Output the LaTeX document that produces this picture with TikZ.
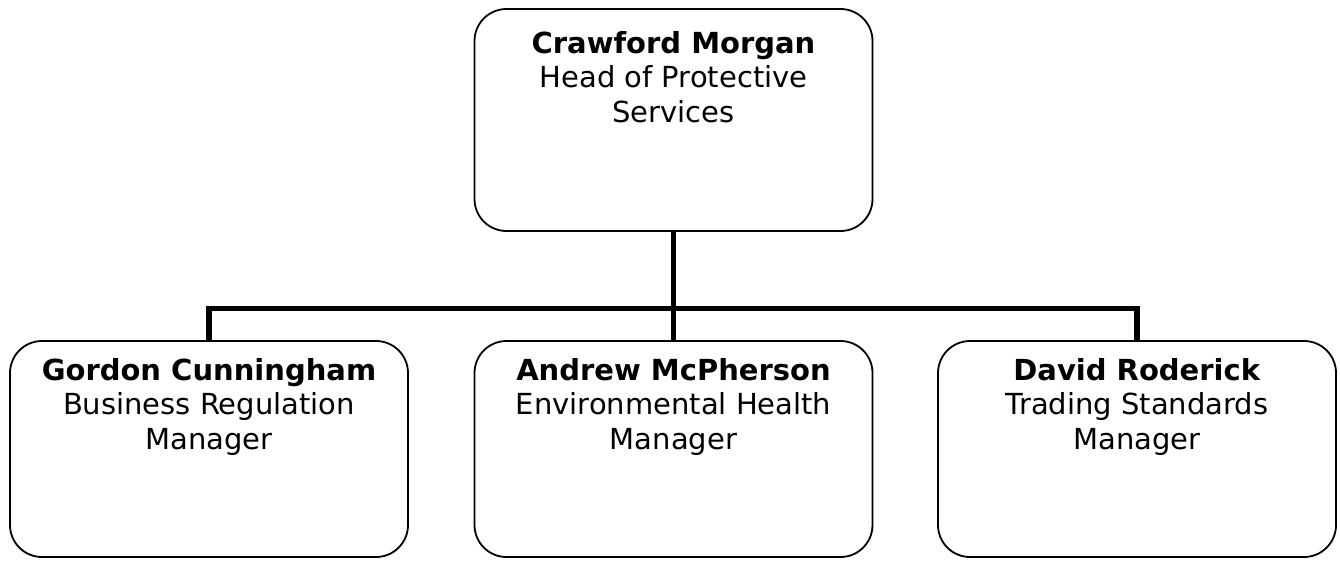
\documentclass[tikz,border=0pt]{standalone}
\usepackage{fontspec}
\setmainfont{DejaVu Sans}
\begin{document}
\begin{tikzpicture}[x=1pt,y=-1pt,
  box/.style={draw, line width=1.8pt, rounded corners=32pt, minimum width=398pt, inner sep=0pt},
  lbl/.style={anchor=north, align=center, inner sep=0pt, font=\fontsize{29}{34.5}\selectfont},
  conn/.style={line width=5.5pt}]
\useasboundingbox (0,0) rectangle (1340,560);
\node[box, minimum height=222pt] (top) at (673.5,120) {};
\node[box, minimum height=216pt] (bl) at (209,449) {};
\node[box, minimum height=216pt] (bm) at (673.5,449) {};
\node[box, minimum height=216pt] (br) at (1137,449) {};
\coordinate (bar) at (673.5,308.5);
\draw[conn] (top.south) -- (bm.north);
\draw[conn] (bl.north) -- (bl.north |- bar) -- (br.north |- bar) -- (br.north);
\node[lbl] (ttop) at ([yshift=-23pt]top.north) {\textbf{Crawford Morgan}\\Head of Protective\\Services};
\node[lbl] (tbl) at ([yshift=-18pt]bl.north) {\textbf{Gordon Cunningham}\\Business Regulation\\Manager};
\node[lbl] (tbm) at ([yshift=-18pt]bm.north) {\textbf{Andrew McPherson}\\Environmental Health\\Manager};
\node[lbl] (tbr) at ([yshift=-18pt]br.north) {\textbf{David Roderick}\\Trading Standards\\Manager};
\end{tikzpicture}
\end{document}
